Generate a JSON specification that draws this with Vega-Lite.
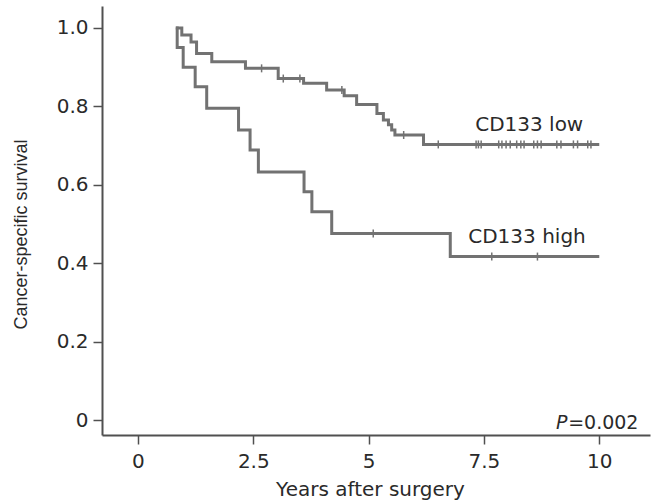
{
  "$schema": "https://vega.github.io/schema/vega-lite/v6.json",
  "width": 548,
  "height": 429,
  "autosize": {"type": "none"},
  "padding": {"left": 102, "top": 6, "right": 3, "bottom": 69},
  "background": "white",
  "config": {
    "view": {"stroke": null},
    "axis": {
      "grid": false,
      "domainColor": "#505050",
      "domainWidth": 2,
      "tickColor": "#505050",
      "tickWidth": 1.5,
      "tickSize": 9,
      "labelColor": "#2a2a2a",
      "labelFont": "DejaVu Sans",
      "labelFontSize": 20,
      "titleColor": "#2a2a2a",
      "titleFontWeight": "normal"
    }
  },
  "datasets": {
    "km": [
      {"group": "low", "t": 0.82, "s": 1.0},
      {"group": "low", "t": 0.95, "s": 0.982},
      {"group": "low", "t": 1.15, "s": 0.964},
      {"group": "low", "t": 1.27, "s": 0.935},
      {"group": "low", "t": 1.60, "s": 0.914},
      {"group": "low", "t": 2.33, "s": 0.897},
      {"group": "low", "t": 3.04, "s": 0.871},
      {"group": "low", "t": 3.59, "s": 0.859},
      {"group": "low", "t": 4.09, "s": 0.842},
      {"group": "low", "t": 4.47, "s": 0.827},
      {"group": "low", "t": 4.74, "s": 0.805},
      {"group": "low", "t": 5.18, "s": 0.782},
      {"group": "low", "t": 5.32, "s": 0.765},
      {"group": "low", "t": 5.43, "s": 0.753},
      {"group": "low", "t": 5.50, "s": 0.740},
      {"group": "low", "t": 5.57, "s": 0.727},
      {"group": "low", "t": 6.19, "s": 0.703},
      {"group": "low", "t": 10.0, "s": 0.703},
      {"group": "high", "t": 0.82, "s": 1.0},
      {"group": "high", "t": 0.85, "s": 0.95},
      {"group": "high", "t": 0.98, "s": 0.90},
      {"group": "high", "t": 1.24, "s": 0.85},
      {"group": "high", "t": 1.49, "s": 0.795},
      {"group": "high", "t": 2.18, "s": 0.74},
      {"group": "high", "t": 2.43, "s": 0.689},
      {"group": "high", "t": 2.61, "s": 0.633},
      {"group": "high", "t": 3.60, "s": 0.582},
      {"group": "high", "t": 3.77, "s": 0.531},
      {"group": "high", "t": 4.20, "s": 0.476},
      {"group": "high", "t": 6.77, "s": 0.417},
      {"group": "high", "t": 10.0, "s": 0.417}
    ],
    "censor": [
      {"group": "low", "t": 2.68, "s": 0.897},
      {"group": "low", "t": 3.15, "s": 0.871},
      {"group": "low", "t": 3.51, "s": 0.871},
      {"group": "low", "t": 4.42, "s": 0.842},
      {"group": "low", "t": 5.76, "s": 0.727},
      {"group": "low", "t": 6.51, "s": 0.703},
      {"group": "low", "t": 7.33, "s": 0.703},
      {"group": "low", "t": 7.38, "s": 0.703},
      {"group": "low", "t": 7.44, "s": 0.703},
      {"group": "low", "t": 7.82, "s": 0.703},
      {"group": "low", "t": 7.89, "s": 0.703},
      {"group": "low", "t": 7.98, "s": 0.703},
      {"group": "low", "t": 8.07, "s": 0.703},
      {"group": "low", "t": 8.21, "s": 0.703},
      {"group": "low", "t": 8.30, "s": 0.703},
      {"group": "low", "t": 8.37, "s": 0.703},
      {"group": "low", "t": 8.58, "s": 0.703},
      {"group": "low", "t": 8.66, "s": 0.703},
      {"group": "low", "t": 8.74, "s": 0.703},
      {"group": "low", "t": 9.08, "s": 0.703},
      {"group": "low", "t": 9.17, "s": 0.703},
      {"group": "low", "t": 9.44, "s": 0.703},
      {"group": "low", "t": 9.53, "s": 0.703},
      {"group": "low", "t": 9.75, "s": 0.703},
      {"group": "low", "t": 9.82, "s": 0.703},
      {"group": "high", "t": 5.10, "s": 0.476},
      {"group": "high", "t": 7.67, "s": 0.417},
      {"group": "high", "t": 8.66, "s": 0.417}
    ],
    "one": [{"k": 1}]
  },
  "layer": [
    {
      "data": {"name": "km"},
      "mark": {"type": "line", "interpolate": "step-after", "stroke": "#727272", "strokeWidth": 3},
      "encoding": {
        "x": {
          "field": "t", "type": "quantitative",
          "scale": {"domain": [-0.78, 11.1], "nice": false, "zero": false},
          "axis": {
            "values": [0, 2.5, 5, 7.5, 10],
            "format": "~g",
            "labelPadding": 7,
            "title": "Years after surgery",
            "titleFont": "DejaVu Sans",
            "titleFontSize": 20,
            "titlePadding": 8,
            "titleX": 268
          }
        },
        "y": {
          "field": "s", "type": "quantitative",
          "scale": {"domain": [-0.038, 1.056], "nice": false, "zero": false},
          "axis": {
            "values": [0, 0.2, 0.4, 0.6, 0.8, 1.0],
            "labelExpr": "datum.value == 0 ? '0' : format(datum.value, '.1f')",
            "labelPadding": 5,
            "title": "Cancer-specific survival",
            "titleFont": "Liberation Sans",
            "titleFontSize": 18,
            "titlePadding": 26,
            "titleY": 228
          }
        },
        "detail": {"field": "group"}
      }
    },
    {
      "data": {"name": "censor"},
      "mark": {"type": "point", "shape": "M0,-1L0,1", "filled": false, "stroke": "#727272", "strokeWidth": 1.5, "size": 64, "opacity": 1},
      "encoding": {
        "x": {"field": "t", "type": "quantitative"},
        "y": {"field": "s", "type": "quantitative"}
      }
    },
    {
      "data": {"name": "one"},
      "mark": {"type": "text", "text": "CD133 low", "font": "DejaVu Sans", "fontSize": 20, "align": "left", "baseline": "alphabetic", "color": "#2a2a2a"},
      "encoding": {"x": {"datum": 7.31}, "y": {"datum": 0.736}}
    },
    {
      "data": {"name": "one"},
      "mark": {"type": "text", "text": "CD133 high", "font": "DejaVu Sans", "fontSize": 20, "align": "left", "baseline": "alphabetic", "color": "#2a2a2a"},
      "encoding": {"x": {"datum": 7.16}, "y": {"datum": 0.451}}
    },
    {
      "data": {"name": "one"},
      "mark": {"type": "text", "text": "=0.002", "font": "DejaVu Sans", "fontSize": 19, "align": "right", "baseline": "alphabetic", "color": "#2a2a2a"},
      "encoding": {"x": {"datum": 10.85}, "y": {"datum": -0.023}}
    },
    {
      "data": {"name": "one"},
      "mark": {"type": "text", "text": "P", "font": "DejaVu Sans", "fontSize": 19, "fontStyle": "italic", "align": "right", "baseline": "alphabetic", "color": "#2a2a2a"},
      "encoding": {"x": {"datum": 9.31}, "y": {"datum": -0.023}}
    }
  ]
}
